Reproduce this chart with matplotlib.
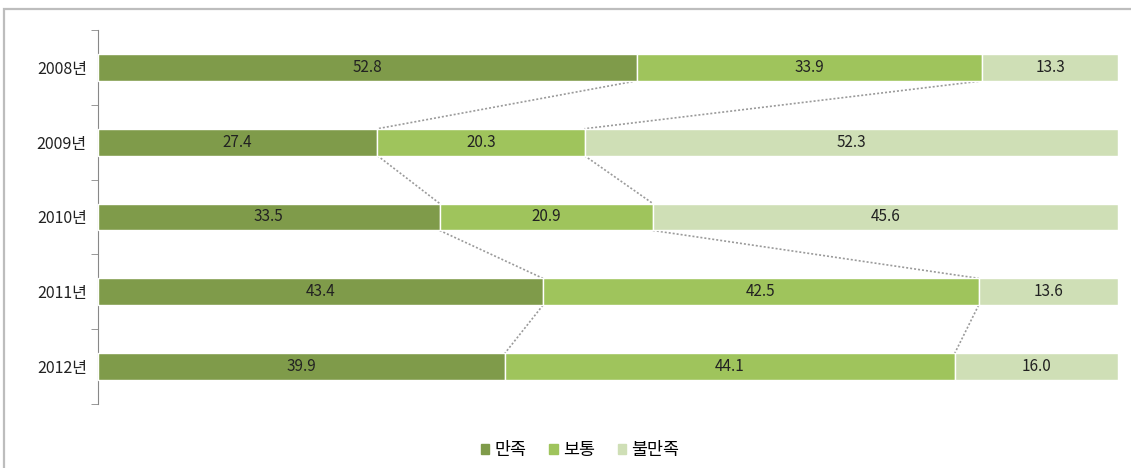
import matplotlib.pyplot as plt
import matplotlib.patches as mpatches
import numpy as np

plt.rcParams['font.family'] = ['Noto Sans CJK KR', 'DejaVu Sans']

# data
years = ['2008년', '2009년', '2010년', '2011년', '2012년']
categories = ['만족', '보통', '불만족']
satisfied = [52.8, 27.4, 33.5, 43.4, 39.9]
normal = [33.9, 20.3, 20.9, 42.5, 44.1]
unsatisfied = [13.3, 52.3, 45.6, 13.6, 16.0]
colors = ['#7f9b4a', '#9fc45c', '#cfdfb6']


def main():
    fig = plt.figure(figsize=(11.31, 4.68), dpi=100)
    # outer frame of the chart (right and bottom edges fall outside)
    fig.patches.append(mpatches.Rectangle(
        (4 / 1131, -0.1), 1.2, 1 - 9 / 468 + 0.1,
        transform=fig.transFigure, fill=False, edgecolor='#bdbdbd',
        linewidth=1.6))

    ax = fig.add_axes([98 / 1131, 1 - 404 / 468, 1020 / 1131, 374 / 468])

    series = np.array([satisfied, normal, unsatisfied], dtype=float)
    # 100% stacked: each row is scaled to its total
    shares = series / series.sum(axis=0) * 100
    y = np.arange(len(years))
    h = 0.36
    left = np.zeros(len(years))
    bounds = []
    for vals, shr, col, lab in zip(series, shares, colors, categories):
        ax.barh(y, shr, left=left, height=h, color=col, edgecolor='white',
                linewidth=1.0, label=lab, zorder=3)
        for yi, (l, s, v) in enumerate(zip(left, shr, vals)):
            ax.text(l + s / 2, yi, '%.1f' % v, ha='center', va='center',
                    fontsize=11, color='#222222', zorder=4)
        left = left + shr
        bounds.append(left.copy())

    # dotted series lines between consecutive bars
    for b in bounds[:2]:
        for i in range(len(years) - 1):
            ax.plot([b[i], b[i + 1]], [i + h / 2, i + 1 - h / 2],
                    linestyle=(0, (1.2, 1.2)), color='#9a9a9a',
                    linewidth=1.2, zorder=2)

    ax.set_xlim(0, 100)
    ax.set_ylim(len(years) - 0.5, -0.5)
    ax.set_yticks(y)
    ax.set_yticklabels(years, fontsize=11.5, color='#222222')
    ax.set_yticks(np.arange(-0.5, len(years)), minor=True)
    ax.tick_params(axis='y', which='major', length=0, pad=8)
    ax.tick_params(axis='y', which='minor', length=5, color='#888888')
    ax.set_xticks([])
    for s in ['top', 'right', 'bottom']:
        ax.spines[s].set_visible(False)
    ax.spines['left'].set_color('#888888')

    handles = [mpatches.Patch(color=c, label=l)
               for c, l in zip(colors, categories)]
    fig.legend(handles=handles, loc='center', ncol=3,
               bbox_to_anchor=(580 / 1131, 1 - 450 / 468), frameon=False,
               fontsize=12.5, handlelength=0.5, handleheight=0.5,
               handletextpad=0.3, columnspacing=1.3)

    fig.savefig('out.png', dpi=100)


if __name__ == '__main__':
    main()
